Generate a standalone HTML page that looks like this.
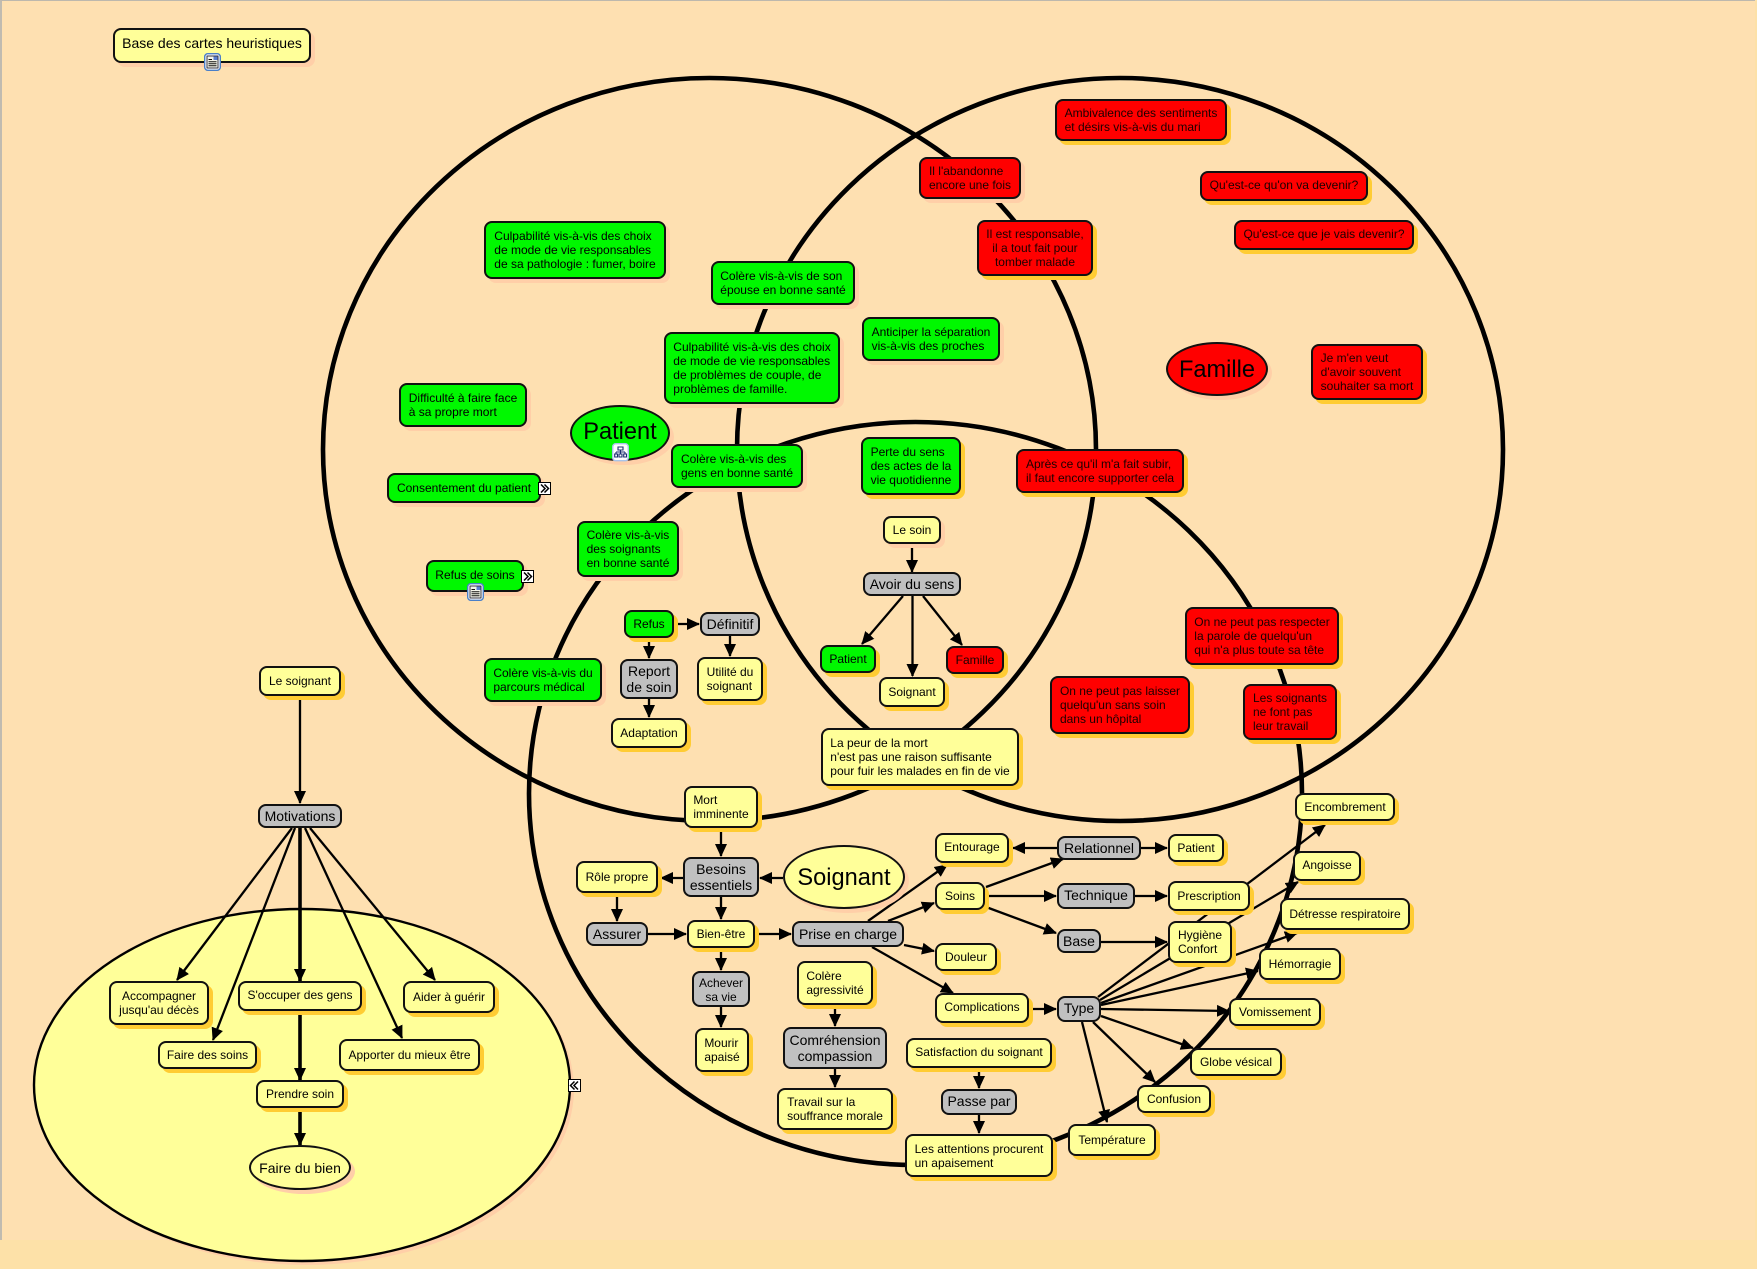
<!DOCTYPE html>
<html lang="fr">
<head>
<meta charset="utf-8">
<title>Base des cartes heuristiques</title>
<style>
html,body{margin:0;padding:0;background:#FEE0B0;}
#page{position:relative;width:1757px;height:1269px;overflow:hidden;background:#FDE1A8;font-family:"Liberation Sans",Arial,sans-serif;}
#bg{position:absolute;left:0;top:0;width:1755px;height:1240px;background:#FEE0B1;border-top:1px solid #bdb8ad;border-left:2px solid #c0bbb0;box-sizing:border-box;}
svg{position:absolute;left:0;top:0;}
line{stroke:#000;stroke-width:2.3;marker-end:url(#a);}
.t{stroke-width:3.6;}
.n{position:absolute;box-sizing:border-box;border:2px solid #111;border-radius:8px;display:flex;align-items:center;justify-content:center;text-align:left;white-space:nowrap;font-size:12px;line-height:13.8px;color:#000;padding-top:2px;}
.y{background:#FFFF99;}
.gr{background:#00F800;}
.r{background:#FF0000;color:#1c0000;}
.g{background:#C0C0C0;font-size:14px;line-height:16px;text-align:center;padding-top:0;}
.gs{font-size:12px;line-height:14.2px;padding-top:2px;}
.o{box-shadow:4px 4px 0 #FFCC33;}
.p{box-shadow:4px 4px 0 #FFCFA8;}
.c{text-align:center;}
.e{border-radius:50%;}
.b{font-size:14px;line-height:16px;padding-top:0;}
.h{font-size:23.6px;line-height:26px;}
</style>
</head>
<body>
<div id="page">
<div id="bg"></div>
<svg width="1757" height="1269" viewBox="0 0 1757 1269">
<defs>
<marker id="a" markerUnits="userSpaceOnUse" markerWidth="13" markerHeight="13" viewBox="0 0 13 13" refX="12" refY="6.5" orient="auto"><path d="M0,0.5 L13,6.5 L0,12.5 Z" fill="#000"/></marker>
</defs>
<ellipse cx="306" cy="1089" rx="268" ry="176" fill="#FFCFA8"/>
<ellipse cx="302" cy="1085" rx="268" ry="176" fill="#FFFF99" stroke="#000" stroke-width="2.4"/>
<g fill="none" stroke="#000" stroke-width="4.6">
<ellipse cx="709.5" cy="449.5" rx="386.5" ry="371.5"/>
<ellipse cx="1120" cy="449.5" rx="383" ry="371.5"/>
<ellipse cx="915.5" cy="793.5" rx="386.5" ry="371.5"/>
</g>
<line x1="300" y1="700" x2="300" y2="803"/>
<line x1="292" y1="828" x2="177" y2="980"/>
<line x1="295" y1="828" x2="213" y2="1040"/>
<line class="t" x1="300" y1="828" x2="300" y2="981"/>
<line x1="305" y1="828" x2="402" y2="1038"/>
<line x1="310" y1="828" x2="435" y2="980"/>
<line class="t" x1="300" y1="1012" x2="300" y2="1080"/>
<line class="t" x1="300" y1="1108" x2="300" y2="1145"/>
<line x1="912" y1="545" x2="912" y2="572"/>
<line x1="903" y1="596" x2="862" y2="644"/>
<line x1="912.5" y1="596" x2="912.5" y2="676"/>
<line x1="923" y1="596" x2="962" y2="645"/>
<line x1="676" y1="624" x2="699" y2="624"/>
<line x1="649" y1="640" x2="649" y2="658"/>
<line x1="730" y1="636" x2="730" y2="656"/>
<line x1="649" y1="699" x2="649" y2="717"/>
<line x1="721" y1="829" x2="721" y2="856"/>
<line x1="783" y1="878" x2="760" y2="878"/>
<line x1="683" y1="878" x2="661" y2="878"/>
<line x1="721" y1="897" x2="721" y2="919"/>
<line x1="617" y1="894" x2="617" y2="921"/>
<line x1="648" y1="934" x2="686" y2="934"/>
<line x1="757" y1="934" x2="791" y2="934"/>
<line x1="721" y1="950" x2="721" y2="970"/>
<line x1="721" y1="1007" x2="721" y2="1027"/>
<line x1="868" y1="921" x2="947" y2="865"/>
<line x1="888" y1="921" x2="934" y2="903"/>
<line x1="904" y1="945" x2="934" y2="951"/>
<line x1="872" y1="947" x2="953" y2="993"/>
<line x1="1031" y1="1009" x2="1056" y2="1009"/>
<line x1="835" y1="1007" x2="835" y2="1026"/>
<line x1="835" y1="1069" x2="835" y2="1087"/>
<line x1="979" y1="1070" x2="979" y2="1088"/>
<line x1="979" y1="1115" x2="979" y2="1133"/>
<line x1="1057" y1="848" x2="1013" y2="848"/>
<line x1="986" y1="887" x2="1063" y2="859"/>
<line x1="986" y1="896" x2="1056" y2="896"/>
<line x1="986" y1="907" x2="1056" y2="933"/>
<line x1="1141" y1="848" x2="1167" y2="848"/>
<line x1="1135" y1="896" x2="1167" y2="896"/>
<line x1="1101" y1="942" x2="1167" y2="942"/>
<line x1="1098" y1="997" x2="1325" y2="825"/>
<line x1="1100" y1="1000" x2="1298" y2="882"/>
<line x1="1101" y1="1003" x2="1297" y2="933"/>
<line x1="1101" y1="1005" x2="1258" y2="971"/>
<line x1="1101" y1="1009" x2="1229" y2="1011"/>
<line x1="1101" y1="1016" x2="1193" y2="1048"/>
<line x1="1093" y1="1022" x2="1155" y2="1082"/>
<line x1="1082" y1="1022" x2="1107" y2="1122"/>
</svg>

<div class="n y p" style="left:113px;top:28px;width:198px;height:35px;font-size:14px;padding-bottom:5px;">Base des cartes heuristiques</div>

<!-- Patient -->
<div class="n gr p" style="left:484px;top:221px;width:182px;height:58px;">Culpabilité vis-à-vis des choix<br>de mode de vie responsables<br>de sa pathologie : fumer, boire</div>
<div class="n gr p" style="left:399px;top:383px;width:128px;height:44px;">Difficulté à faire face<br>à sa propre mort</div>
<div class="n gr p e h" style="left:570px;top:405px;width:100px;height:56px;padding-bottom:4px;">Patient</div>
<div class="n gr p" style="left:387px;top:473px;width:154px;height:30px;">Consentement du patient</div>
<div class="n gr p" style="left:426px;top:560px;width:98px;height:32px;padding-bottom:3px;">Refus de soins</div>
<div class="n gr p" style="left:577px;top:521px;width:102px;height:56px;">Colère vis-à-vis<br>des soignants<br>en bonne santé</div>
<div class="n gr p" style="left:484px;top:658px;width:118px;height:44px;">Colère vis-à-vis du<br>parcours médical</div>
<div class="n gr p" style="left:671px;top:444px;width:132px;height:44px;">Colère vis-à-vis des<br>gens en bonne santé</div>
<div class="n gr p" style="left:711px;top:261px;width:144px;height:44px;">Colère vis-à-vis de son<br>épouse en bonne santé</div>
<div class="n gr p" style="left:664px;top:332px;width:176px;height:72px;">Culpabilité vis-à-vis des choix<br>de mode de vie responsables<br>de problèmes de couple, de<br>problèmes de famille.</div>
<div class="n gr p" style="left:862px;top:317px;width:138px;height:44px;">Anticiper la séparation<br>vis-à-vis des proches</div>
<div class="n gr o" style="left:861px;top:437px;width:100px;height:58px;">Perte du sens<br>des actes de la<br>vie quotidienne</div>
<div class="n gr o" style="left:624px;top:610px;width:50px;height:28px;">Refus</div>
<div class="n g" style="left:700px;top:612px;width:60px;height:24px;">Définitif</div>
<div class="n g" style="left:620px;top:659px;width:58px;height:40px;">Report<br>de soin</div>
<div class="n y o" style="left:697px;top:657px;width:66px;height:44px;">Utilité du<br>soignant</div>
<div class="n y o" style="left:611px;top:718px;width:76px;height:30px;">Adaptation</div>

<!-- Le soin -->
<div class="n y p" style="left:883px;top:516px;width:58px;height:28px;">Le soin</div>
<div class="n g" style="left:863px;top:572px;width:98px;height:24px;">Avoir du sens</div>
<div class="n gr o" style="left:820px;top:645px;width:56px;height:28px;">Patient</div>
<div class="n r o" style="left:946px;top:646px;width:58px;height:28px;">Famille</div>
<div class="n y o" style="left:879px;top:677px;width:66px;height:30px;">Soignant</div>
<div class="n y o" style="left:821px;top:728px;width:198px;height:58px;">La peur de la mort<br>n'est pas une raison suffisante<br>pour fuir les malades en fin de vie</div>

<!-- Famille -->
<div class="n r o" style="left:1055px;top:99px;width:172px;height:42px;">Ambivalence des sentiments<br>et désirs vis-à-vis du mari</div>
<div class="n r p" style="left:919px;top:157px;width:102px;height:42px;">Il l'abandonne<br>encore une fois</div>
<div class="n r o c" style="left:977px;top:220px;width:116px;height:56px;">Il est responsable,<br>il a tout fait pour<br>tomber malade</div>
<div class="n r o" style="left:1200px;top:171px;width:168px;height:30px;padding-bottom:2px;">Qu'est-ce qu'on va devenir?</div>
<div class="n r o" style="left:1234px;top:220px;width:180px;height:30px;padding-bottom:2px;">Qu'est-ce que je vais devenir?</div>
<div class="n r p e h" style="left:1166px;top:342px;width:102px;height:54px;color:#000;">Famille</div>
<div class="n r o" style="left:1311px;top:344px;width:112px;height:56px;">Je m'en veut<br>d'avoir souvent<br>souhaiter sa mort</div>
<div class="n r o" style="left:1016px;top:449px;width:168px;height:44px;">Après ce qu'il m'a fait subir,<br>il faut encore supporter cela</div>
<div class="n r o" style="left:1185px;top:607px;width:154px;height:58px;">On ne peut pas respecter<br>la parole de quelqu'un<br>qui n'a plus toute sa tête</div>
<div class="n r o" style="left:1050px;top:676px;width:140px;height:58px;">On ne peut pas laisser<br>quelqu'un sans soin<br>dans un hôpital</div>
<div class="n r o" style="left:1243px;top:684px;width:94px;height:56px;">Les soignants<br>ne font pas<br>leur travail</div>

<!-- Soignant -->
<div class="n y o" style="left:684px;top:786px;width:74px;height:42px;">Mort<br>imminente</div>
<div class="n g" style="left:683px;top:857px;width:76px;height:40px;">Besoins<br>essentiels</div>
<div class="n y o" style="left:576px;top:861px;width:82px;height:32px;">Rôle propre</div>
<div class="n y p e h" style="left:783px;top:845px;width:122px;height:64px;">Soignant</div>
<div class="n g" style="left:586px;top:922px;width:62px;height:24px;">Assurer</div>
<div class="n y o" style="left:687px;top:920px;width:68px;height:28px;">Bien-être</div>
<div class="n g" style="left:792px;top:921px;width:112px;height:26px;">Prise en charge</div>
<div class="n y o" style="left:935px;top:833px;width:74px;height:30px;padding-bottom:2px;">Entourage</div>
<div class="n y o" style="left:935px;top:882px;width:50px;height:28px;">Soins</div>
<div class="n y o" style="left:935px;top:943px;width:62px;height:28px;">Douleur</div>
<div class="n y o" style="left:935px;top:993px;width:94px;height:30px;padding-bottom:2px;">Complications</div>
<div class="n g gs" style="left:692px;top:971px;width:58px;height:36px;">Achever<br>sa vie</div>
<div class="n y o" style="left:695px;top:1028px;width:54px;height:44px;">Mourir<br>apaisé</div>
<div class="n y o" style="left:797px;top:961px;width:76px;height:44px;">Colère<br>agressivité</div>
<div class="n g" style="left:783px;top:1027px;width:104px;height:42px;">Comréhension<br>compassion</div>
<div class="n y o" style="left:777px;top:1088px;width:116px;height:42px;">Travail sur la<br>souffrance morale</div>
<div class="n y o" style="left:906px;top:1038px;width:146px;height:30px;padding-bottom:2px;">Satisfaction du soignant</div>
<div class="n g" style="left:941px;top:1089px;width:76px;height:26px;padding-bottom:2px;">Passe par</div>
<div class="n y o" style="left:905px;top:1134px;width:148px;height:43px;">Les attentions procurent<br>un apaisement</div>
<div class="n g" style="left:1057px;top:836px;width:84px;height:24px;">Relationnel</div>
<div class="n y o" style="left:1168px;top:834px;width:56px;height:28px;">Patient</div>
<div class="n g" style="left:1057px;top:883px;width:78px;height:26px;padding-bottom:2px;">Technique</div>
<div class="n y o" style="left:1168px;top:881px;width:82px;height:30px;">Prescription</div>
<div class="n g" style="left:1057px;top:929px;width:44px;height:24px;">Base</div>
<div class="n y o" style="left:1168px;top:921px;width:64px;height:42px;">Hygiène<br>Confort</div>
<div class="n g" style="left:1057px;top:996px;width:44px;height:26px;padding-bottom:2px;">Type</div>
<div class="n y o" style="left:1295px;top:793px;width:100px;height:28px;">Encombrement</div>
<div class="n y o" style="left:1293px;top:851px;width:68px;height:30px;padding-bottom:2px;">Angoisse</div>
<div class="n y o" style="left:1280px;top:898px;width:130px;height:32px;">Détresse respiratoire</div>
<div class="n y o" style="left:1259px;top:948px;width:82px;height:32px;">Hémorragie</div>
<div class="n y o" style="left:1229px;top:998px;width:92px;height:28px;">Vomissement</div>
<div class="n y o" style="left:1190px;top:1048px;width:92px;height:28px;">Globe vésical</div>
<div class="n y o" style="left:1137px;top:1085px;width:74px;height:28px;">Confusion</div>
<div class="n y o" style="left:1068px;top:1124px;width:88px;height:32px;">Température</div>

<!-- Le soignant -->
<div class="n y o" style="left:259px;top:666px;width:82px;height:30px;">Le soignant</div>
<div class="n g" style="left:258px;top:804px;width:84px;height:24px;">Motivations</div>
<div class="n y o c" style="left:109px;top:981px;width:100px;height:44px;">Accompagner<br>jusqu'au décès</div>
<div class="n y o" style="left:238px;top:981px;width:124px;height:30px;padding-bottom:2px;">S'occuper des gens</div>
<div class="n y o" style="left:403px;top:981px;width:92px;height:32px;">Aider à guérir</div>
<div class="n y o" style="left:158px;top:1041px;width:99px;height:28px;">Faire des soins</div>
<div class="n y o" style="left:339px;top:1039px;width:141px;height:32px;">Apporter du mieux être</div>
<div class="n y o" style="left:256px;top:1080px;width:88px;height:28px;">Prendre soin</div>
<div class="n y p e b" style="left:249px;top:1145px;width:102px;height:45px;">Faire du bien</div>

<svg width="1757" height="1269" viewBox="0 0 1757 1269" style="pointer-events:none">
<defs>
<g id="doc"><rect x="0.7" y="0.7" width="15.6" height="16.6" rx="3" fill="#fff" stroke="#4a7fc8" stroke-width="1.4"/><rect x="3" y="3" width="11" height="12" fill="#f4f4e8" stroke="#223" stroke-width="0.9"/><path d="M4.5,6.5H8M4.5,8.7H12.5M4.5,10.7H12.5M4.5,12.7H12.5" stroke="#111" stroke-width="1"/><rect x="9.5" y="3.5" width="4" height="3.5" fill="#5a7fd0"/></g>
<g id="chev"><rect x="0.5" y="0.5" width="12" height="12" fill="#fff" stroke="#000"/><path d="M3,2.5L7,6.5L3,10.5M6.5,2.5L10.5,6.5L6.5,10.5" fill="none" stroke="#000" stroke-width="1.5"/></g>
</defs>
<use href="#doc" x="204" y="53"/>
<use href="#doc" x="467" y="583"/>
<rect x="612.7" y="443.7" width="15.6" height="17" rx="3" fill="#fff" stroke="#a9c4ea" stroke-width="1.4"/>
<path d="M618,447H623V450H618ZM620.5,450V452M616,452H625M616,452V454M625,452V454M614.7,454H617.5V457H614.7ZM619,454H622V457H619ZM623.7,454H626.5V457H623.7ZM620.5,452V454" fill="none" stroke="#1c2f70" stroke-width="1.1"/>
<use href="#chev" x="538" y="482"/>
<use href="#chev" x="521" y="570"/>
<g transform="translate(581,1079) scale(-1,1)"><use href="#chev"/></g>
</svg>
</div>
</body>
</html>
